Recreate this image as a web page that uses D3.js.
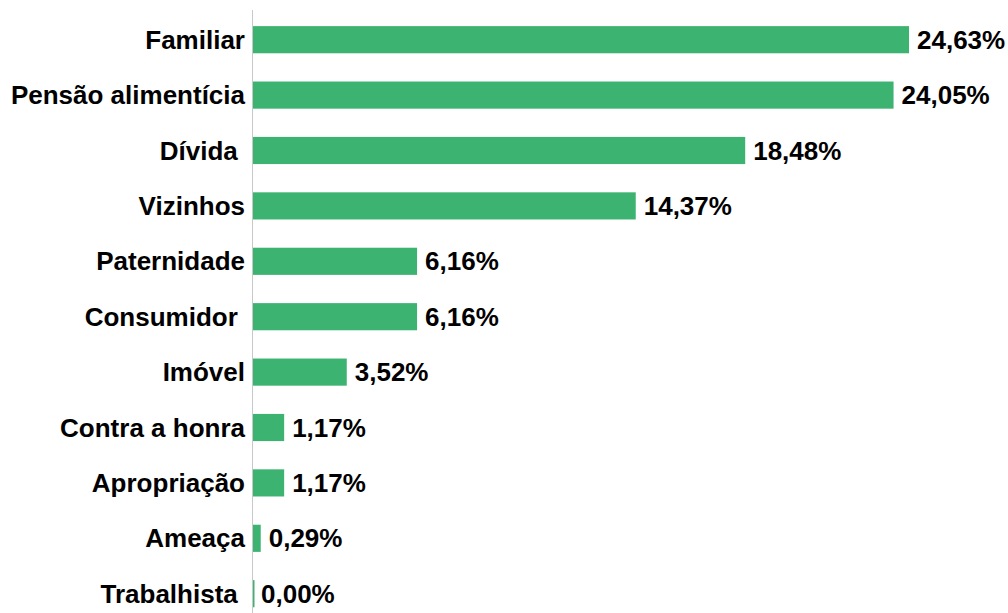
<!DOCTYPE html>
<html><head><meta charset="utf-8">
<script src="https://cdn.jsdelivr.net/npm/d3@7/dist/d3.min.js"></script>
<style>body{margin:0;background:#fff}svg{display:block}text{font-family:"Liberation Sans",Arial,sans-serif;font-weight:bold;fill:#000}</style>
</head><body>
<script>
const categories = ["Familiar","Pensão alimentícia","Dívida ","Vizinhos","Paternidade","Consumidor ","Imóvel","Contra a honra","Apropriação","Ameaça","Trabalhista "];
const values = [24.63,24.05,18.48,14.37,6.16,6.16,3.52,1.17,1.17,0.29,0.00];
const valueLabels = ["24,63%","24,05%","18,48%","14,37%","6,16%","6,16%","3,52%","1,17%","1,17%","0,29%","0,00%"];

const W=1008,H=613;
const svg=d3.select("body").append("svg").attr("width",W).attr("height",H);
const x=d3.scaleLinear().domain([0,24.63]).range([253,909]);
const y=d3.scaleBand().domain(categories).range([12,621.4]).padding(0);
const barH=y.bandwidth()*0.49;

svg.append("line").attr("x1",252.5).attr("x2",252.5).attr("y1",10).attr("y2",H)
  .attr("stroke","#c8c8c8").attr("stroke-width",1);

const g=svg.selectAll("g.row").data(categories).enter().append("g");
g.append("rect")
  .attr("x",x(0))
  .attr("y",d=>y(d)+y.bandwidth()/2-barH/2)
  .attr("width",(d,i)=>Math.max(1.5,x(values[i])-x(0)))
  .attr("height",barH)
  .attr("fill","#3cb371");
g.append("text")
  .attr("x",245).attr("y",d=>y(d)+y.bandwidth()/2)
  .attr("dy","0.35em").attr("text-anchor","end")
  .style("font-size","26px").style("white-space","pre")
  .text(d=>d);
g.append("text")
  .attr("x",(d,i)=>x(values[i])+8).attr("y",d=>y(d)+y.bandwidth()/2)
  .attr("dy","0.35em")
  .style("font-size","26px")
  .text((d,i)=>valueLabels[i]);
</script>
</body></html>
